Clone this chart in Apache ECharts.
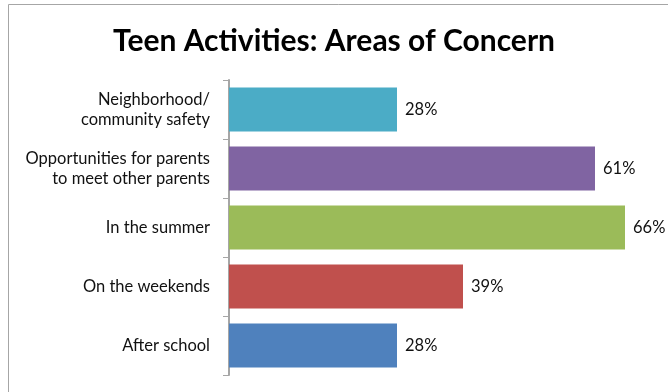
<!DOCTYPE html>
<html>
<head>
<meta charset="utf-8">
<script src="https://cdn.jsdelivr.net/npm/echarts@6/dist/echarts.min.js"></script>
<style>
  html, body { margin: 0; padding: 0; background: #fff; }
  #chart { width: 668px; height: 392px; }
</style>
</head>
<body>
<div id="chart"></div>
<script>
// Areas of concern, listed top to bottom
const categories = [
  'Neighborhood/\ncommunity safety',
  'Opportunities for parents\nto meet other parents',
  'In the summer',
  'On the weekends',
  'After school'
];
const values = [28, 61, 66, 39, 28];
const barColors = ['#4bacc6', '#8064a2', '#9bbb59', '#c0504d', '#4f81bd'];

const FONT = 'Lato, "Open Sans", sans-serif';

const chart = echarts.init(document.getElementById('chart'), null, { renderer: 'canvas' });

chart.setOption({
  animation: false,
  backgroundColor: '#ffffff',
  title: {
    // zero-width non-joiners keep the "ti" pairs from turning into ligatures
    text: 'Teen Activ\u200Citi\u200Ces: Areas of Concern',
    left: 'center',
    top: 21,
    textStyle: { fontFamily: FONT, fontWeight: 'bold', fontSize: 30, color: '#000' }
  },
  graphic: [{
    type: 'rect',
    shape: { x: 8.5, y: 4.5, width: 700, height: 420 },
    style: { fill: 'none', stroke: '#a6a6a6', lineWidth: 1 },
    silent: true
  }],
  grid: { left: 229, right: 19, top: 80, bottom: 17, containLabel: false },
  xAxis: {
    type: 'value',
    min: 0,
    max: 70,
    show: false
  },
  yAxis: {
    type: 'category',
    data: categories,
    inverse: true,
    axisLine: { show: true, lineStyle: { color: '#a6a6a6', width: 2 } },
    axisTick: { show: true, length: 6, lineStyle: { color: '#a6a6a6', width: 1 } },
    axisLabel: {
      margin: 19,
      fontFamily: FONT,
      fontSize: 16.5,
      lineHeight: 20,
      color: '#111',
      align: 'right'
    },
    splitLine: { show: false }
  },
  series: [{
    type: 'bar',
    data: values.map((v, i) => ({ value: v, itemStyle: { color: barColors[i] } })),
    barWidth: 44,
    label: {
      show: true,
      position: 'right',
      distance: 8,
      formatter: '{c}%',
      fontFamily: FONT,
      fontSize: 16.5,
      color: '#111'
    }
  }]
});
</script>
</body>
</html>
